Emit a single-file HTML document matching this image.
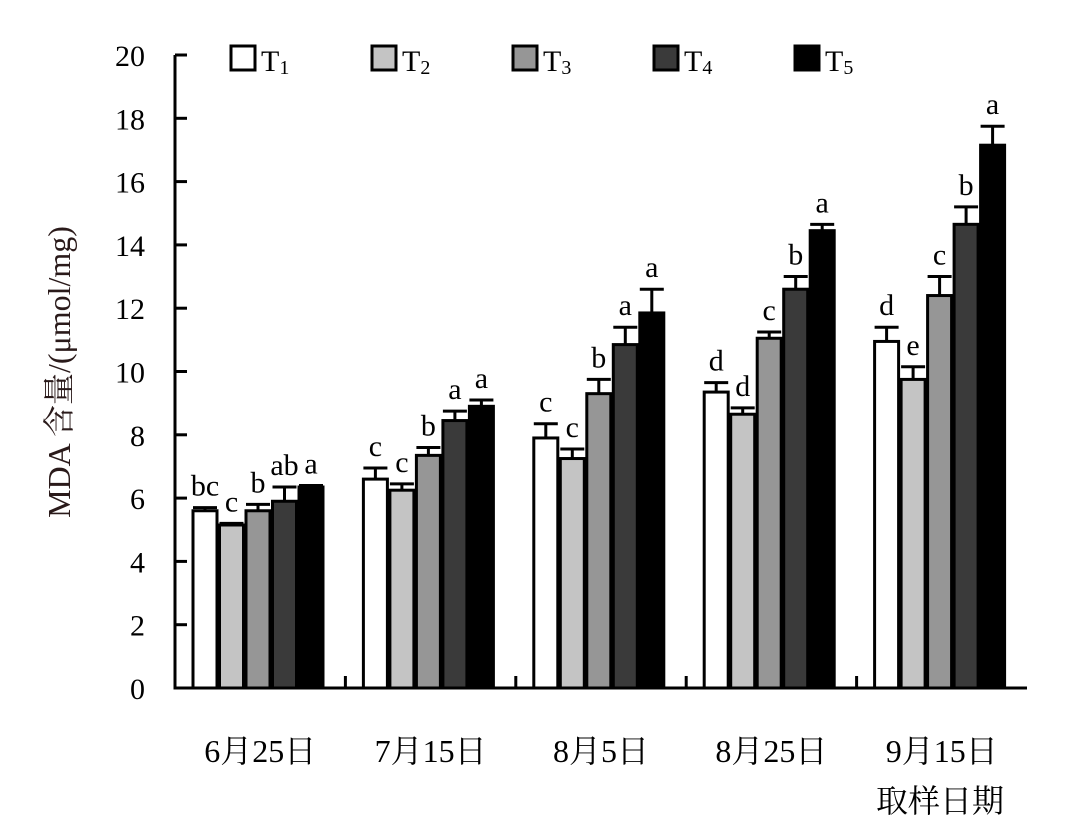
<!DOCTYPE html>
<html><head><meta charset="utf-8"><style>
body{margin:0;background:#fff}
svg{display:block;font-family:"Liberation Serif","Noto Serif CJK SC",serif}
</style></head><body>
<svg id="c" width="1080" height="828"></svg>
<script>
const categories=["6月25日","7月15日","8月5日","8月25日","9月15日"];
const seriesNames=["T1","T2","T3","T4","T5"];
const t1=[5.6,6.6,7.9,9.35,10.95];
const t2=[5.15,6.25,7.25,8.65,9.75];
const t3=[5.6,7.35,9.3,11.05,12.4];
const t4=[5.9,8.45,10.85,12.6,14.65];
const t5=[6.35,8.9,11.85,14.45,17.15];
const e1=[0.1,0.35,0.45,0.3,0.45];
const e2=[0.05,0.2,0.3,0.2,0.4];
const e3=[0.2,0.25,0.45,0.2,0.6];
const e4=[0.45,0.3,0.55,0.4,0.55];
const e5=[0.05,0.2,0.75,0.2,0.6];
const l1=["bc","c","c","d","d"];
const l2=["c","c","c","d","e"];
const l3=["b","b","b","c","c"];
const l4=["ab","a","a","b","b"];
const l5=["a","a","a","a","a"];
const yTicks=[0,2,4,6,8,10,12,14,16,18,20];
const series=[t1,t2,t3,t4,t5],errs=[e1,e2,e3,e4,e5],labs=[l1,l2,l3,l4,l5];
const fills=["#ffffff","#c4c4c4","#969696","#3a3a3a","#000000"];
const X0=175,X1=1027,Y0=688,Y1=55;
const y=v=>Y0-(v/20)*(Y0-Y1);
const gw=(X1-X0)/categories.length;
const bx=(i,j)=>X0+i*gw+18+j*26.5;
const svg=document.getElementById('c');const NS="http://www.w3.org/2000/svg";
function mk(t,a,p){const e=document.createElementNS(NS,t);for(const k in a)e.setAttribute(k,a[k]);(p||svg).appendChild(e);return e;}
for(let i=0;i<categories.length;i++){for(let j=0;j<5;j++){
 const v=series[j][i],er=errs[j][i],x=bx(i,j),w=24;
 const r=mk('rect',{x:x,y:y(v),width:w,height:Y0-y(v),fill:fills[j],stroke:'#000','stroke-width':3});
 
 
 const cx=x+w/2;
 const eb=mk('path',{d:`M${cx} ${y(v)}V${y(v+er)}M${cx-12} ${y(v+er)}H${cx+12}`,stroke:'#000','stroke-width':3,fill:'none'});
 
 
 const tx=mk('text',{x:cx,y:y(v+er)-12,'text-anchor':'middle','font-size':30});
 tx.textContent=labs[j][i];
 
 
}
 const ct=mk('text',{x:X0+(i+0.5)*gw,y:762,'text-anchor':'middle','font-size':32});
 ct.textContent=categories[i];
 
 
 if(i>0){const tk=mk('line',{x1:X0+i*gw,x2:X0+i*gw,y1:Y0,y2:Y0-12,stroke:'#000','stroke-width':3});
 
 }
}
for(const t of yTicks){
 const l=mk('line',{x1:X0,x2:X0+12,y1:y(t),y2:y(t),stroke:'#000','stroke-width':3});
 
 
 const tx=mk('text',{x:X0-30,y:y(t)+11,'text-anchor':'end','font-size':30});
 tx.textContent=t;
 
 
}
const ax=mk('path',{d:`M${X0} ${Y1}V${Y0}H${X1}`,stroke:'#000','stroke-width':3,fill:'none'});


const yt=mk('text',{transform:'translate(70,372) rotate(-90)','text-anchor':'middle','font-size':32,fill:'#2a1a1a'});
yt.textContent='MDA 含量/(μmol/mg)';


const xt=mk('text',{x:940,y:812,'text-anchor':'middle','font-size':32});
xt.textContent='取样日期';


for(let j=0;j<5;j++){
 const lx=231+j*141;
 const g=mk('g',{});
 
 
 mk('rect',{x:lx,y:46,width:24,height:24,fill:fills[j],stroke:'#000','stroke-width':3},g);
 const t=mk('text',{x:lx+30,y:71,'font-size':30},g);
 t.innerHTML='T<tspan font-size="20" dy="3">'+(j+1)+'</tspan>';
}
</script>
</body></html>
